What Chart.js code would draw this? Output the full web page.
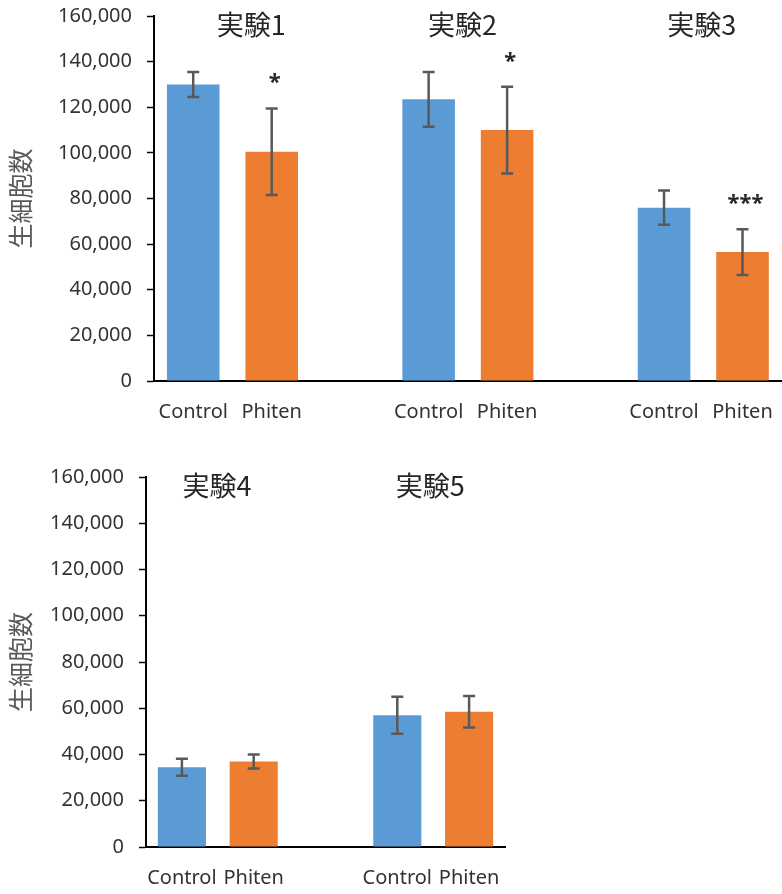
<!DOCTYPE html>
<html>
<head>
<meta charset="utf-8">
<script src="https://cdn.jsdelivr.net/npm/chart.js@4.4.1/dist/chart.umd.min.js"></script>
<style>
  body { margin: 0; background: #fff; overflow: hidden; width: 782px; height: 894px; position: relative; }
  #topChart { position: absolute; left: 0; top: 0; }
  #bottomChart { position: absolute; left: 0; top: 460px; }
</style>
</head>
<body>
<canvas id="topChart" width="792" height="440"></canvas>
<canvas id="bottomChart" width="520" height="434"></canvas>
<script>
const topLabels = ['Control', 'Phiten', '', 'Control', 'Phiten', '', 'Control', 'Phiten'];
const topValues = [130000, 100500, null, 123500, 110000, null, 76000, 56500];
const topErrors = [5500, 19000, null, 12000, 19000, null, 7500, 10000];
const topStars  = ['', '*', '', '', '*', '', '', '***'];
const topTitles = ['実験1', '実験2', '実験3'];

const bottomLabels = ['Control', 'Phiten', '', 'Control', 'Phiten'];
const bottomValues = [34500, 37000, null, 57000, 58500];
const bottomErrors = [3700, 3000, null, 8000, 6800];
const bottomStars  = ['', '', '', '', ''];
const bottomTitles = ['実験4', '実験5'];

const yTicks = [0, 20000, 40000, 60000, 80000, 100000, 120000, 140000, 160000];

const BLUE = '#5B9BD5';
const ORANGE = '#ED7D31';
const FONT = '"Noto Sans", "Noto Sans CJK JP", sans-serif';
const CJK = '"Noto Sans CJK JP", sans-serif';

// draws error bars, stars and experiment titles on top of the bars
const extrasPlugin = {
  id: 'extras',
  afterDatasetsDraw(chart) {
    const ctx = chart.ctx;
    const ds = chart.data.datasets[0];
    const meta = chart.getDatasetMeta(0);
    const y = chart.scales.y, x = chart.scales.x;
    const cfg = chart.options.plugins.extras;
    ctx.save();
    ctx.strokeStyle = '#595959';
    ctx.lineWidth = 2.5;
    ds.data.forEach((v, i) => {
      if (v == null) return;
      const bx = meta.data[i].x;
      const yt = y.getPixelForValue(v + cfg.errors[i]);
      const yb = y.getPixelForValue(v - cfg.errors[i]);
      ctx.beginPath();
      ctx.moveTo(bx, yt); ctx.lineTo(bx, yb);
      ctx.moveTo(bx - 6, yt); ctx.lineTo(bx + 6, yt);
      ctx.moveTo(bx - 6, yb); ctx.lineTo(bx + 6, yb);
      ctx.stroke();
      if (cfg.stars[i]) {
        ctx.fillStyle = '#262626';
        ctx.font = 'bold 22px ' + FONT;
        ctx.textAlign = 'center';
        ctx.textBaseline = 'alphabetic';
        ctx.fillText(cfg.stars[i], bx + 3, yt - 19);
      }
    });
    ctx.fillStyle = '#262626';
    ctx.font = '27px ' + CJK;
    ctx.textAlign = 'center';
    ctx.textBaseline = 'middle';
    cfg.titles.forEach((t, k) => {
      ctx.fillText(t, x.getPixelForValue(cfg.titleSlots[k]), chart.chartArea.top + 9);
    });
    ctx.restore();
  }
};

function makeChart(id, labels, values, errors, stars, titles, titleSlots, axisWidth, padTop, xAxisHeight, padRight) {
  const colors = labels.map(l => l === 'Phiten' ? ORANGE : BLUE);
  return new Chart(document.getElementById(id), {
    type: 'bar',
    data: {
      labels: labels,
      datasets: [{
        data: values,
        backgroundColor: colors,
        barPercentage: 0.67,
        categoryPercentage: 1.0
      }]
    },
    options: {
      responsive: false,
      animation: false,
      layout: { padding: { top: padTop, right: padRight, left: 0, bottom: 0 } },
      plugins: {
        legend: { display: false },
        tooltip: { enabled: false },
        extras: { errors: errors, stars: stars, titles: titles, titleSlots: titleSlots }
      },
      scales: {
        x: {
          grid: { display: false, drawTicks: false },
          border: { display: true, color: '#000', width: 2 },
          ticks: { color: '#333', font: { size: 20, family: FONT }, padding: 19, maxRotation: 0, autoSkip: false },
          afterFit: s => { s.height = xAxisHeight; }
        },
        y: {
          min: 0, max: 160000,
          afterBuildTicks: s => { s.ticks = yTicks.map(v => ({ value: v })); },
          ticks: { color: '#333', font: { size: 20, family: FONT }, padding: 15,
                   callback: v => v.toLocaleString('en-US') },
          grid: { drawOnChartArea: false, drawTicks: true, tickLength: 7, tickColor: '#000', tickWidth: 1.5 },
          border: { display: true, color: '#000', width: 2 },
          title: { display: true, text: '生細胞数', color: '#595959', font: { size: 25, family: CJK }, padding: { top: 5, bottom: 0 } },
          afterFit: s => { s.width = axisWidth; s.paddingTop = 0; s.paddingBottom = 0; }
        }
      }
    },
    plugins: [extrasPlugin]
  });
}

makeChart('topChart', topLabels, topValues, topErrors, topStars, topTitles, [0.74, 3.43, 6.48], 154, 16, 59, 4);
makeChart('bottomChart', bottomLabels, bottomValues, bottomErrors, bottomStars, bottomTitles, [0.49, 3.46], 146, 17, 47, 15);
</script>
</body>
</html>
